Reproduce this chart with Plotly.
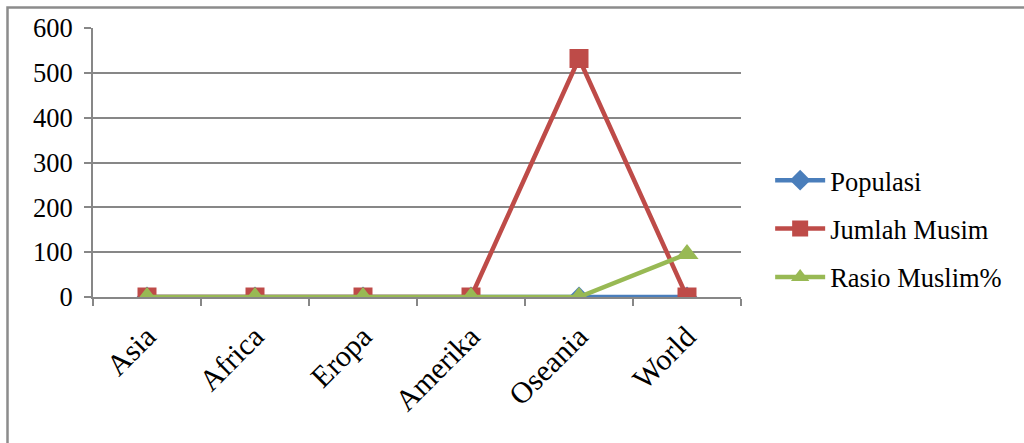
import plotly.graph_objects as go

categories = ["Asia", "Africa", "Eropa", "Amerika", "Oseania", "World"]
populasi = [0, 0, 0, 0, 0, 0]
jumlah_musim = [0, 0, 0, 0, 532, 0]
rasio_muslim = [0, 0, 0, 0, 0, 96]
y_ticks = [0, 100, 200, 300, 400, 500, 600]

FONT = "Liberation Serif"
GRID = "#878787"

fig = go.Figure()
fig.add_trace(go.Scatter(x=categories, y=populasi, name="Populasi", mode="lines+markers",
                         legendgroup="a",
                         line=dict(color="#4A7EBB", width=4.5),
                         marker=dict(symbol="diamond", size=16, color="#4A7EBB")))
fig.add_trace(go.Scatter(x=categories, y=jumlah_musim, name="Jumlah Musim", mode="lines+markers",
                         legendgroup="b",
                         line=dict(color="#BE4B48", width=4.5),
                         marker=dict(symbol="square", size=19, color="#BE4B48")))
fig.add_trace(go.Scatter(x=categories, y=rasio_muslim, name="Rasio Muslim%", mode="lines+markers",
                         legendgroup="c",
                         line=dict(color="#98B954", width=4.5),
                         marker=dict(symbol="triangle-up", size=20, color="#98B954")))

fig.update_layout(
    width=1024, height=443,
    margin=dict(l=93, r=283, t=28, b=146),
    paper_bgcolor="white", plot_bgcolor="white",
    font=dict(family=FONT, size=26.5, color="black"),
    showlegend=True,
    legend=dict(x=1.045, y=0.253, xanchor="left", yanchor="middle",
                font=dict(family=FONT, size=26.5, color="black"),
                bgcolor="rgba(0,0,0,0)", tracegroupgap=11, itemwidth=50),
    xaxis=dict(type="category", range=[-0.5, 5.5], tickson="boundaries",
               ticks="outside", ticklen=7, tickwidth=2, tickcolor=GRID,
               showgrid=False, showline=True, linecolor=GRID, linewidth=2,
               tickangle=-45, ticklabelstandoff=8,
               tickfont=dict(family=FONT, size=30, color="black")),
    yaxis=dict(range=[0, 600], tickvals=y_ticks, ticks="outside", ticklen=7,
               tickwidth=2, tickcolor=GRID, showgrid=True, gridcolor=GRID,
               gridwidth=2, showline=True, linecolor=GRID, linewidth=2,
               zeroline=False, ticklabelstandoff=6,
               tickfont=dict(family=FONT, size=26.5, color="black")),
    shapes=[dict(type="rect", xref="paper", yref="paper",
                 x0=-85.5/648, x1=(1030-93)/648, y0=-(150+10)/269, y1=(28-7.5)/269 + 1,
                 line=dict(color="#8C8C8C", width=2.5), fillcolor="rgba(0,0,0,0)", layer="below")],
)

fig.write_html("out.html")
